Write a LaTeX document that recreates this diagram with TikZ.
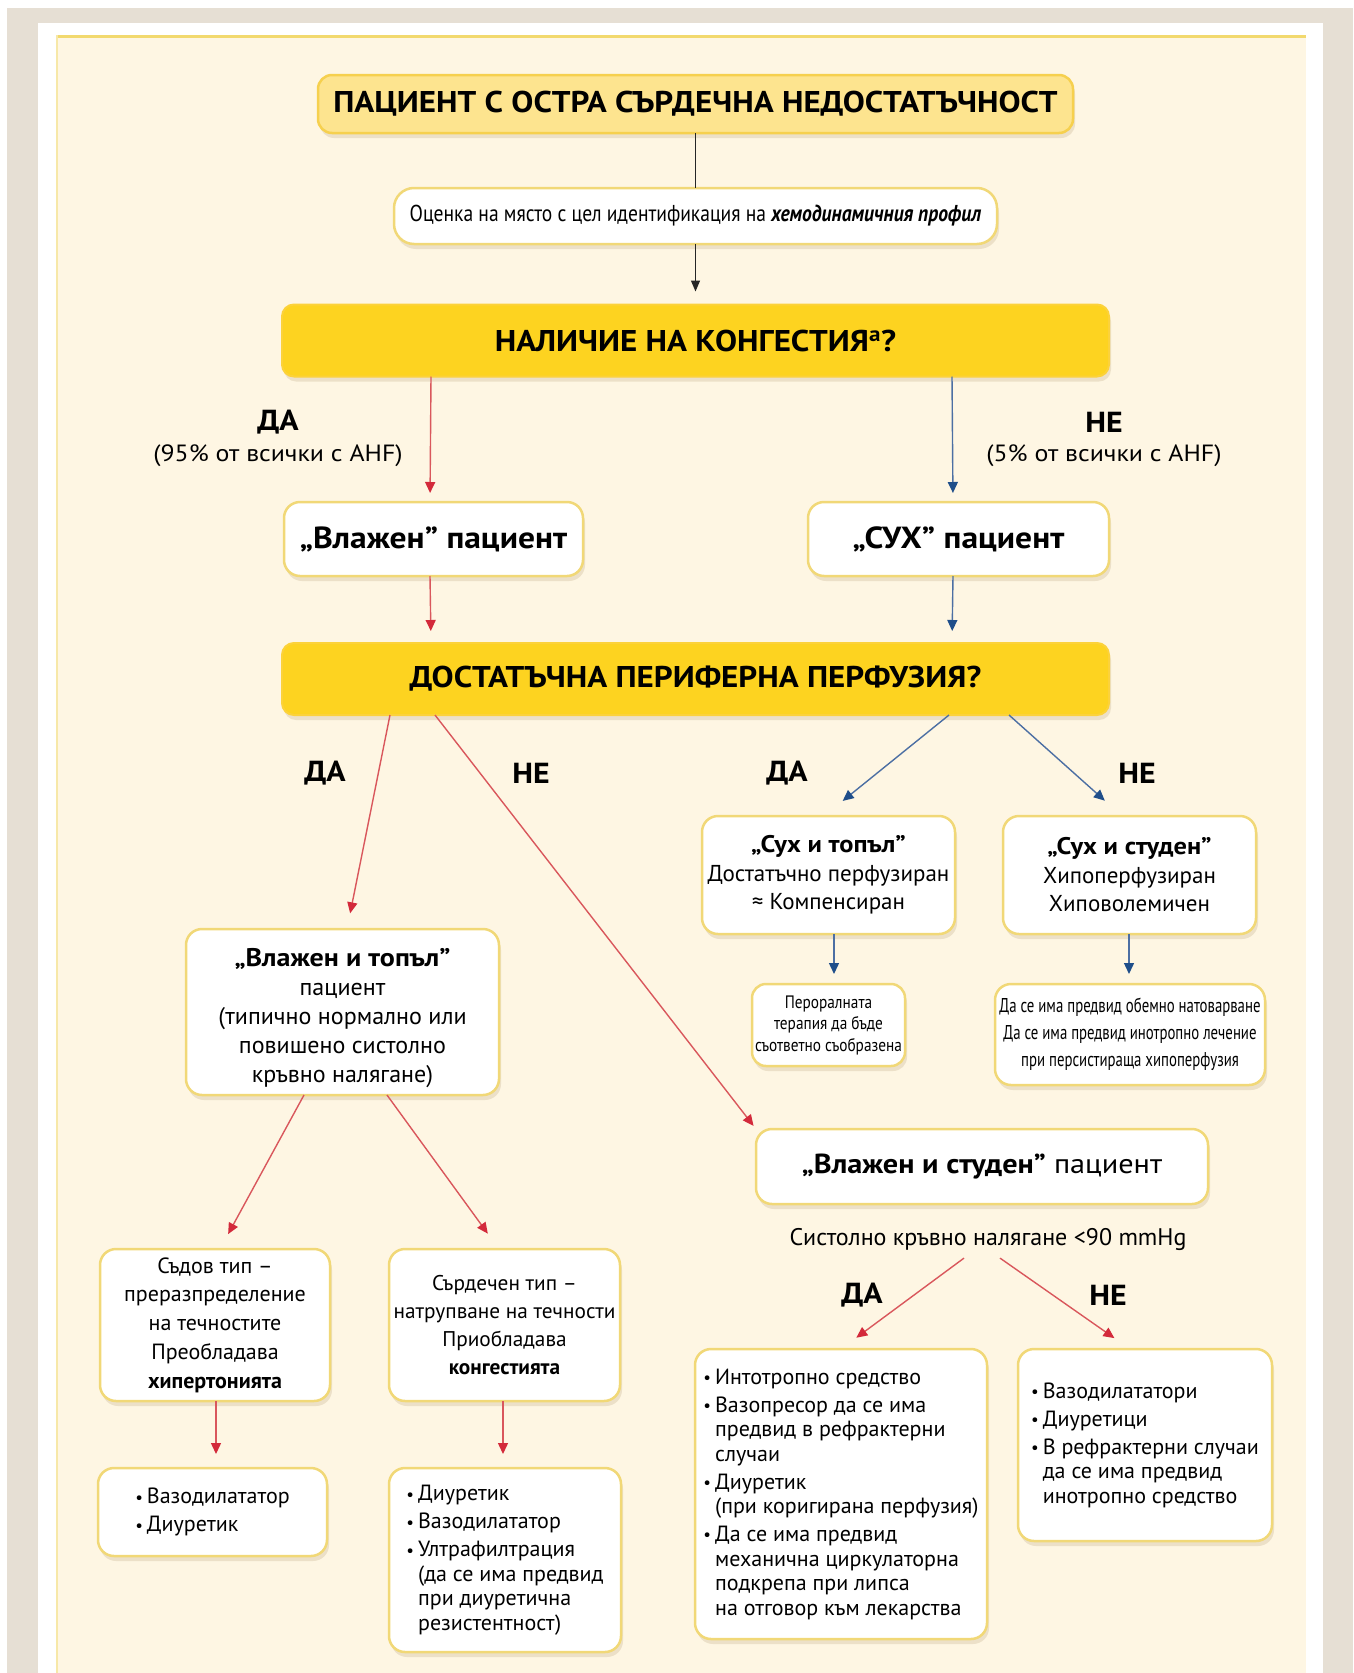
\documentclass[tikz,border=0pt]{standalone}
\usepackage{fontspec}
\setmainfont{PT Sans}
\newfontfamily\condf[FakeStretch=0.85]{PT Sans}
\newfontfamily\vcondf[FakeStretch=0.74]{PT Sans}
\newfontfamily\hdf[FakeStretch=1.1]{PT Sans}
\newcommand\bul{\raisebox{0.05ex}{\fontsize{17}{17}\selectfont•}\hspace{4pt}}
\newcommand\ind{\phantom{\bul}}
\usetikzlibrary{arrows.meta,shadows,calc}
\definecolor{beige}{HTML}{E6DFD4}
\definecolor{cream}{HTML}{FEF6E3}
\definecolor{goldline}{HTML}{F2D96E}
\definecolor{titlefill}{HTML}{FDE48F}
\definecolor{titledraw}{HTML}{F6D04E}
\definecolor{qfill}{HTML}{FDD320}
\definecolor{qdraw}{HTML}{FCD23A}
\definecolor{boxdraw}{HTML}{F1D877}
\definecolor{shadowc}{HTML}{B8A27A}
\definecolor{redline}{HTML}{D9575C}
\definecolor{redhead}{HTML}{D32A3B}
\definecolor{blueline}{HTML}{4C6FA3}
\definecolor{bluehead}{HTML}{1F4E8A}
\begin{document}
\begin{tikzpicture}[x=1pt,y=-1pt,
  every node/.style={inner sep=0pt,outer sep=0pt,text=black},
  shadowed/.style={drop shadow={shadow xshift=2pt,shadow yshift=-5pt,opacity=0.25,fill=shadowc}},
  wbox/.style={shadowed,draw=boxdraw,line width=2.5pt,fill=white,rounded corners=16pt},
  titlebox/.style={shadowed,draw=titledraw,line width=2.5pt,fill=titlefill,rounded corners=14pt},
  qbox/.style={shadowed,draw=qdraw,line width=2pt,fill=qfill,rounded corners=12pt},
  lab/.style={font=\hdf\bfseries\fontsize{29}{35}\selectfont},
  pct/.style={font=\hdf\fontsize{23.5}{27}\selectfont},
  body/.style={font=\fontsize{23}{28.5}\selectfont,align=center},
  blist/.style={font=\fontsize{22}{24.5}\selectfont,align=left},
  redarr/.style={draw=redline,line width=1.4pt,-{Triangle[length=11pt,width=10pt,color=redhead]}},
  bluearr/.style={draw=blueline,line width=1.4pt,-{Triangle[length=11pt,width=10pt,color=bluehead]}},
  blackarr/.style={draw=black!85,line width=1.2pt,-{Triangle[length=11pt,width=9pt]}}
]
\useasboundingbox (0,0) rectangle (1354,1673);
\fill[white] (0,0) rectangle (1354,1673);
\fill[beige] (7,8) rectangle (1353,1673);
\fill[white] (38,23) rectangle (1323,1673);
\fill[cream] (56,35) rectangle (1306,1673);
\draw[goldline,line width=3pt] (56,36.5) -- (1306,36.5);
\draw[goldline!60,line width=1.5pt] (56.75,35) -- (56.75,1673);

% top
\node[titlebox,minimum width=755pt,minimum height=58pt,font=\hdf\bfseries\fontsize{30}{34}\selectfont] (title) at (695.5,104) {ПАЦИЕНТ С ОСТРА СЪРДЕЧНА НЕДОСТАТЪЧНОСТ};
\node[wbox,rounded corners=20pt,minimum width=603pt,minimum height=56pt,font=\condf\fontsize{23}{27}\selectfont] (eval) at (695.5,216) {Оценка на място с цел идентификация на \textbf{\textit{хемодинамичния профил}}};
\node[qbox,minimum width=827pt,minimum height=72pt,font=\hdf\bfseries\fontsize{30}{36}\selectfont] (q1) at (695.5,340.5) {НАЛИЧИЕ НА КОНГЕСТИЯ\textsuperscript{a}?};

\node[lab] (yes1) at (278,422) {ДА};
\node[pct] (yes1p) at (278,456) {(95\% от всички с AHF)};
\node[lab] (no1) at (1104,422) {НЕ};
\node[pct] (no1p) at (1104,456) {(5\% от всички с AHF)};

\node[wbox,minimum width=299pt,minimum height=74pt,font=\hdf\bfseries\fontsize{30.5}{34}\selectfont] (wet) at (433.5,539) {„Влажен” пациент};
\node[wbox,minimum width=301pt,minimum height=74pt,font=\hdf\bfseries\fontsize{30.5}{34}\selectfont] (dry) at (958.5,539) {„СУХ” пациент};

\node[qbox,minimum width=827pt,minimum height=72pt,font=\hdf\bfseries\fontsize{30}{36}\selectfont] (q2) at (695.5,679) {ДОСТАТЪЧНА ПЕРИФЕРНА ПЕРФУЗИЯ?};

\node[lab] (yes2) at (325,773) {ДА};
\node[lab] (no2) at (531,773) {НЕ};
\node[lab] (yes3) at (787,773) {ДА};
\node[lab] (no3) at (1137,773) {НЕ};

% dry branch
\node[wbox,minimum width=253pt,minimum height=118pt,body] (drywarm) at (828.5,875) {{\hdf\bfseries\fontsize{24}{28.5}\selectfont „Сух и топъл”}\\Достатъчно перфузиран\\≈ Компенсиран};
\node[wbox,minimum width=253pt,minimum height=118pt,body] (drycold) at (1129.5,875) {{\hdf\bfseries\fontsize{24}{28.5}\selectfont „Сух и студен”}\\Хипоперфузиран\\Хиповолемичен};
\node[wbox,rounded corners=14pt,minimum width=153pt,minimum height=82pt,align=center,font=\condf\fontsize{18}{21.5}\selectfont] (oral) at (828.5,1025) {Пероралната\\терапия да бъде\\съответно съобразена};
\node[wbox,minimum width=270pt,minimum height=101pt,align=center,font=\vcondf\fontsize{20}{27}\selectfont] (volume) at (1130,1034.5) {Да се има предвид обемно натоварване\\Да се има предвид инотропно лечение\\при персистираща хипоперфузия};

% wet branch
\node[wbox,minimum width=313pt,minimum height=166pt,body,font=\fontsize{24}{29}\selectfont] (wetwarm) at (342.5,1012) {\mbox{}\\[2pt]{\hdf\bfseries\fontsize{25.5}{29}\selectfont „Влажен и топъл”}\\пациент\\(типично нормално или\\повишено систолно\\кръвно налягане)};
\node[wbox,minimum width=230pt,minimum height=152pt,body,font=\fontsize{22}{28.7}\selectfont] (vasc) at (215,1325) {Съдов тип –\\преразпределение\\на течностите\\Преобладава\\\textbf{хипертонията}};
\node[wbox,minimum width=231pt,minimum height=152pt,body,font=\fontsize{21.3}{28.3}\selectfont] (card) at (504.5,1325) {Сърдечен тип –\\натрупване на течности\\Приобладава\\\textbf{конгестията}};
\node[wbox,minimum width=229pt,minimum height=88pt,blist,font=\fontsize{22}{28}\selectfont] (tx1) at (212.5,1512) {\bul Вазодилататор\\\bul Диуретик};
\node[wbox,minimum width=232pt,minimum height=184pt,blist] (tx2) at (505,1560) {\bul Диуретик\\[3.5pt]\bul Вазодилататор\\[3.5pt]\bul Ултрафилтрация\\\ind(да се има предвид\\\ind при диуретична\\\ind резистентност)};

\node[wbox,minimum width=452pt,minimum height=75pt,font=\hdf\fontsize{27.5}{32}\selectfont] (wetcold) at (982,1166.5) {\textbf{„Влажен и студен”} пациент};
\node[font=\fontsize{24}{28}\selectfont] (sbp) at (988,1239) {Систолно кръвно налягане <90 mmHg};
\node[lab] (yes4) at (862,1295) {ДА};
\node[lab] (no4) at (1108,1295) {НЕ};

\node[wbox,minimum width=292pt,minimum height=290pt,blist] (tx3) at (841,1494) {\bul Интотропно средство\\[3.5pt]\bul Вазопресор да се има\\\ind предвид в рефрактерни\\\ind случаи\\[3.5pt]\bul Диуретик\\\ind(при коригирана перфузия)\\[3.5pt]\bul Да се има предвид\\\ind механична циркулаторна\\\ind подкрепа при липса\\\ind на отговор към лекарства};
\node[wbox,minimum width=254pt,minimum height=192pt,blist] (tx4) at (1145,1445) {\bul Вазодилататори\\[3.5pt]\bul Диуретици\\[3.5pt]\bul В рефрактерни случаи\\\ind да се има предвид\\\ind инотропно средство};

% connectors
\draw[black!85,line width=1.2pt] (title.south) -- (eval.north);
\draw[blackarr,shorten >=13pt] (eval.south) -- (q1.north);
\draw[redarr,shorten >=9pt] ($(q1.south west)+(149,0)$) -- ($(wet.north)+(-3.5,0)$);
\draw[bluearr,shorten >=9pt] ($(q1.south east)+(-157,0)$) -- ($(dry.north)+(-5.5,0)$);
\draw[redarr,shorten >=12pt] ($(wet.south)+(-3.5,0)$) -- ($(q2.north west)+(149,0)$);
\draw[bluearr,shorten >=12pt] ($(dry.south)+(-5.5,0)$) -- ($(q2.north east)+(-157,0)$);

\draw[redarr,shorten >=16pt] ($(q2.south west)+(108,0)$) -- ($(wetwarm.north)+(4.5,0)$);
\draw[redarr,shorten >=4pt] ($(q2.south west)+(153,0)$) -- (wetcold.north west);
\draw[bluearr,shorten >=24pt] ($(q2.south east)+(-160,0)$) -- ($(drywarm.north)+(-4.5,0)$);
\draw[bluearr,shorten >=23pt] ($(q2.south east)+(-100,0)$) -- ($(drycold.north)+(-7.5,0)$);

\draw[bluearr,shorten >=10pt] ($(drywarm.south)+(5.5,0)$) -- ($(oral.north)+(5.5,0)$);
\draw[bluearr,shorten >=10pt] ($(drycold.south)+(-0.5,0)$) -- ($(volume.north)+(-1,0)$);

\draw[redarr,shorten >=17pt] ($(wetwarm.south west)+(118,0)$) -- ($(vasc.north)+(5,0)$);
\draw[redarr,shorten >=19pt] ($(wetwarm.south west)+(201,0)$) -- ($(card.north)+(-5.5,0)$);
\draw[redarr,shorten >=14pt] ($(vasc.south)+(1,0)$) -- ($(tx1.north)+(3.5,0)$);
\draw[redarr,shorten >=14pt] ($(card.south)+(-1.5,0)$) -- ($(tx2.north)+(-2,0)$);

\draw[redarr,shorten >=19pt] ($(sbp.south)+(-24,8)$) -- (tx3.north);
\draw[redarr,shorten >=19pt] ($(sbp.south)+(12,8)$) -- ($(tx4.north)+(-15,0)$);
\end{tikzpicture}
\end{document}
